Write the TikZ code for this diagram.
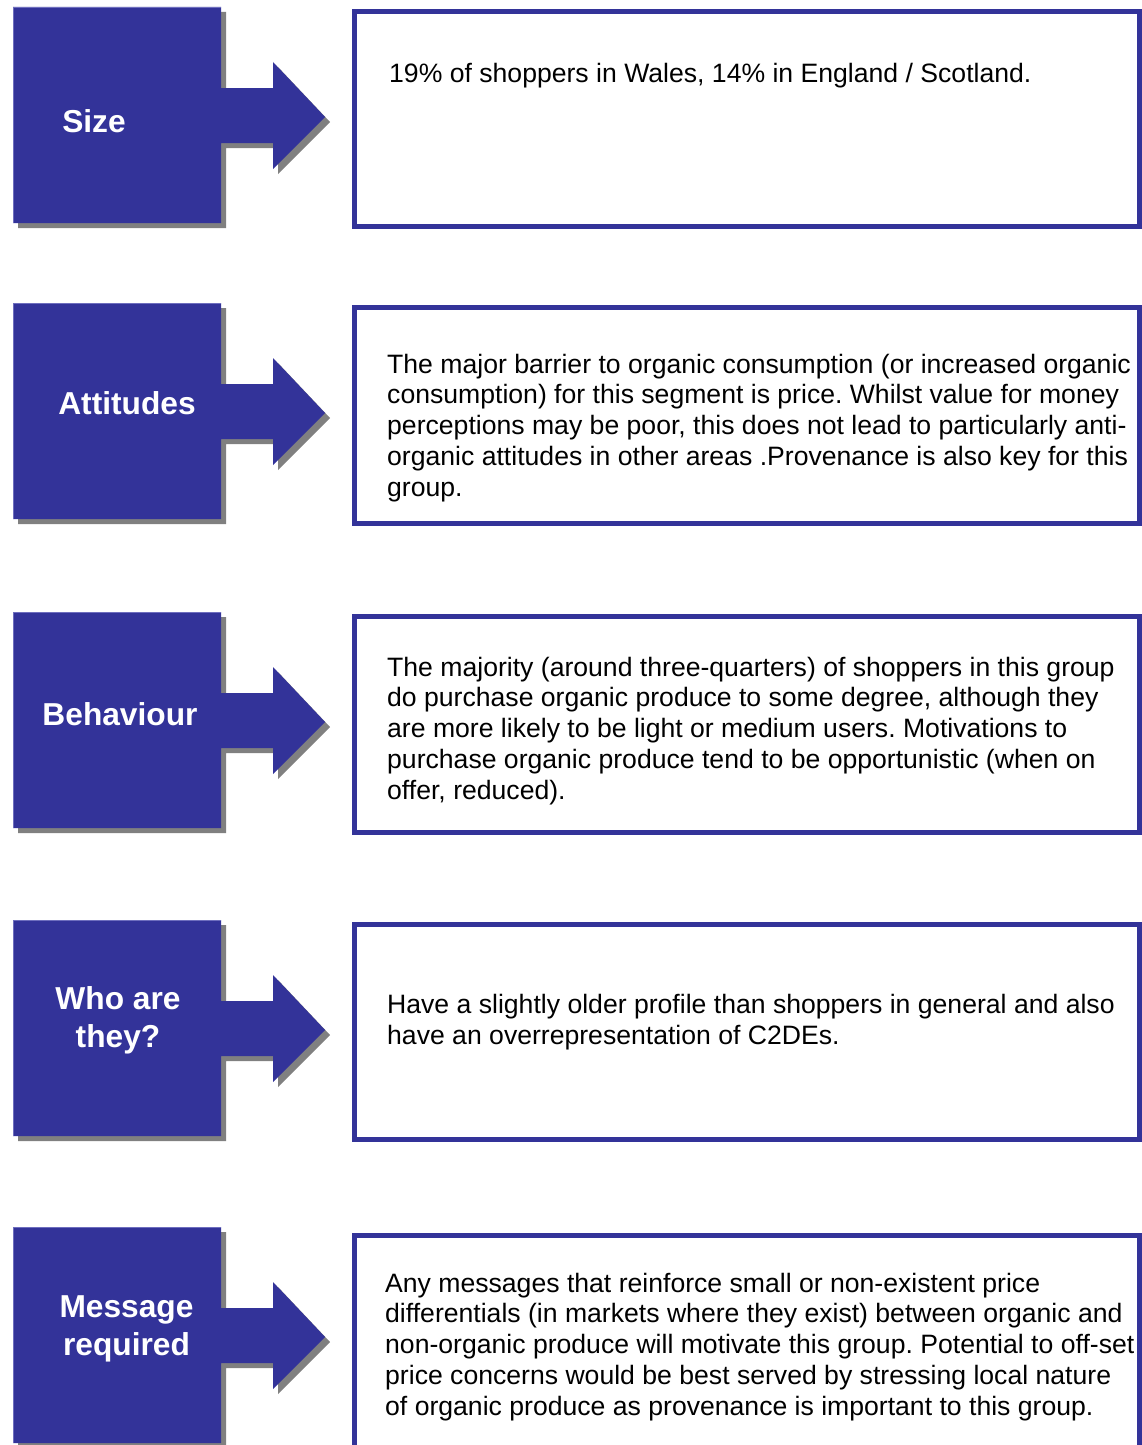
\documentclass[tikz,border=0pt]{standalone}
\usepackage{fontspec}
\setmainfont{Liberation Sans}
\frenchspacing
\definecolor{segblue}{RGB}{51,51,153}
\definecolor{segedge}{RGB}{110,110,190}
\definecolor{seggrey}{RGB}{128,128,128}
\tikzset{
  shad/.style={fill=seggrey},
  tbox/.style={draw=segblue, line width=4.5pt},
  body/.style={anchor=base west, inner sep=0pt, align=left,
    font=\fontsize{26.6}{30.7}\selectfont\frenchspacing, text=black},
  lbl/.style={anchor=base, inner sep=0pt, align=center,
    font=\fontsize{31.7}{38}\selectfont\bfseries, text=white}
}
\begin{document}
\begin{tikzpicture}[x=1pt,y=-1pt]
\useasboundingbox (0,0) rectangle (1142,1445);
\clip (0,0) rectangle (1142,1445);
\fill[white] (0,0) rectangle (1142,1445);
% arrow shapes
\foreach \T in {7,303,612,920,1227}{
  \fill[shad] (18,\T+5) -- (226,\T+5) -- (226,\T+86) -- (278,\T+86) -- (278,\T+60)
    -- (330,\T+115) -- (278,\T+167) -- (278,\T+141) -- (226,\T+141) -- (226,\T+221)
    -- (18,\T+221) -- cycle;
  \fill[segblue] (13,\T) -- (221,\T) -- (221,\T+81) -- (273,\T+81) -- (273,\T+55)
    -- (325,\T+110) -- (273,\T+162) -- (273,\T+136) -- (221,\T+136) -- (221,\T+216)
    -- (13,\T+216) -- cycle;
  \draw[segedge, line width=0.8pt] (13,\T) -- (221,\T) (13,\T) -- (13,\T+216);
}
% text boxes
\draw[tbox] (354.5,11.5) rectangle (1139.5,226.5);
\draw[tbox] (354.5,307.5) rectangle (1139.5,523.5);
\draw[tbox] (354.5,616.5) rectangle (1139.5,832.5);
\draw[tbox] (354.5,924.5) rectangle (1139.5,1139.5);
\draw[tbox] (354.5,1460) -- (354.5,1235.5) -- (1139.5,1235.5) -- (1139.5,1460);
% labels (base = last line)
\node[lbl] (size) at (94,132) {Size};
\node[lbl] (att) at (127,414) {Attitudes};
\node[lbl] (beh) at (120,725) {Behaviour};
\node[lbl] (who) at (118,1047) {Who are\\they?};
\node[lbl] (msg) at (126.5,1355) {Message\\required};
% body texts (base = last line)
\node[body] (t1) at (389,82) {19\% of shoppers in Wales, 14\% in England / Scotland.};
\node[body] (t2) at (387,496) {The major barrier to organic consumption (or increased organic\\
consumption) for this segment is price. Whilst value for money\\
perceptions may be poor, this does not lead to particularly anti-\\
organic attitudes in other areas .Provenance is also key for this\\
group.};
\node[body] (t3) at (387,799) {The majority (around three-quarters) of shoppers in this group\\
do purchase organic produce to some degree, although they\\
are more likely to be light or medium users. Motivations to\\
purchase organic produce tend to be opportunistic (when on\\
offer, reduced).};
\node[body] (t4) at (387,1044) {Have a slightly older profile than shoppers in general and also\\
have an overrepresentation of C2DEs.};
\node[body] (t5) at (385,1415) {Any messages that reinforce small or non-existent price\\
differentials (in markets where they exist) between organic and\\
non-organic produce will motivate this group. Potential to off-set\\
price concerns would be best served by stressing local nature\\
of organic produce as provenance is important to this group.};
\end{tikzpicture}
\end{document}
